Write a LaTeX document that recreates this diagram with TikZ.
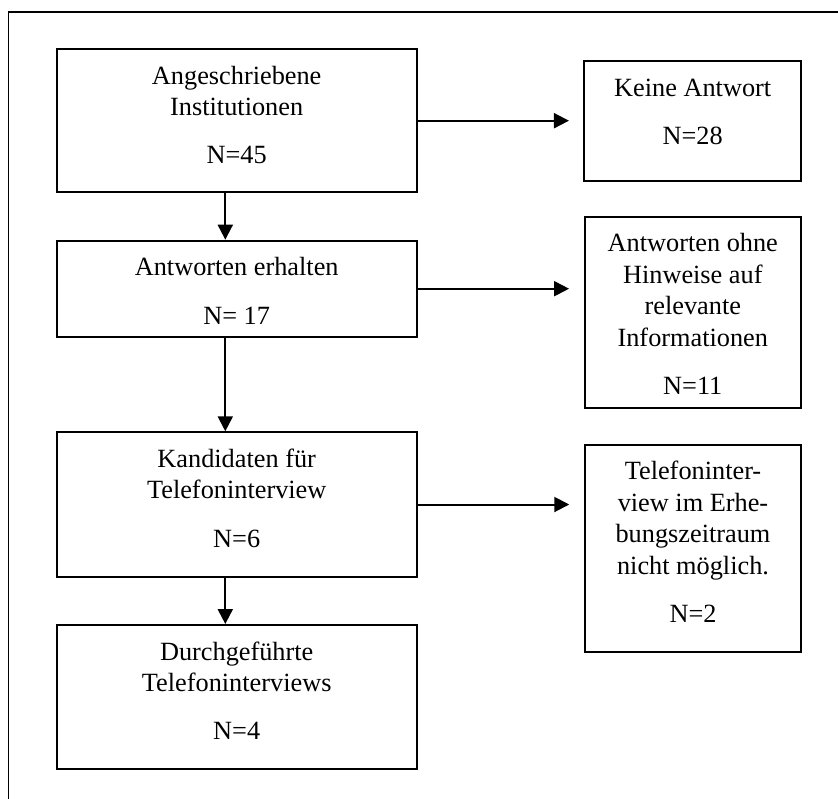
\documentclass[tikz,border=0pt]{standalone}
\usepackage{fontspec}
\setmainfont{Liberation Serif}
\usetikzlibrary{arrows.meta}
\begin{document}
\begin{tikzpicture}[x=1pt,y=-1pt,
  box/.style={draw, line width=2pt, inner sep=0pt},
  txt/.style={align=center, inner sep=0pt, anchor=base, font=\fontsize{26.3}{31.5}\selectfont},
  arr/.style={line width=2pt, -{Triangle[length=15pt,width=15pt]}},
  frame/.style={line width=1.4pt}]
\useasboundingbox (0,0) rectangle (838,798);
\draw[frame] (850,12) -- (8.3,12) -- (8.3,810);

% left column
\node[box, minimum width=360pt, minimum height=143.3pt] (b1) at (236.7,120.7) {};
\node[box, minimum width=360pt, minimum height=96pt]    (b3) at (236.7,288.7) {};
\node[box, minimum width=360pt, minimum height=144.4pt] (b5) at (236.7,504.5) {};
\node[box, minimum width=360pt, minimum height=144pt]   (b7) at (236.7,697) {};
% right column
\node[box, minimum width=216.5pt, minimum height=120pt]   (b2) at (692.7,121) {};
\node[box, minimum width=216.5pt, minimum height=191.6pt] (b4) at (692.8,312.5) {};
\node[box, minimum width=216.5pt, minimum height=206.7pt] (b6) at (693,548.3) {};

% texts (base anchor = baseline of the last line)
\node[txt] (t1) at ([yshift=-115.8pt]b1.north) {Angeschriebene\\Institutionen\\[16.8pt]N=45};
\node[txt] (t2) at ([yshift=-84.3pt]b2.north) {Keine Antwort\\[16.8pt]N=28};
\node[txt] (t3) at ([yshift=-84.3pt]b3.north) {Antworten erhalten\\[16.8pt]N= 17};
\node[txt] (t4) at ([yshift=-178.8pt]b4.north) {Antworten ohne\\Hinweise auf\\relevante\\Informationen\\[16.8pt]N=11};
\node[txt] (t5) at ([yshift=-115.8pt]b5.north) {Kandidaten für\\Telefoninterview\\[16.8pt]N=6};
\node[txt] (t6) at ([yshift=-178.8pt]b6.north) {Telefoninter-\\view im Erhe-\\bungszeitraum\\nicht möglich.\\[16.8pt]N=2};
\node[txt] (t7) at ([yshift=-115.8pt]b7.north) {Durchgeführte\\Telefoninterviews\\[16.8pt]N=4};

% horizontal arrows
\draw[arr, shorten >=14.5pt] (b1.east) -- (b1.east -| b2.west);
\draw[arr, shorten >=14.5pt] (b3.east) -- (b3.east -| b4.west);
\draw[arr, shorten >=14.5pt] (b5.east) -- (b5.east -| b6.west);

% vertical arrows
\coordinate (v1) at ([xshift=-11.4pt]b1.south);
\coordinate (v3) at ([xshift=-11.4pt]b3.south);
\coordinate (v5) at ([xshift=-11.4pt]b5.south);
\draw[arr] (v1) -- (v1 |- b3.north);
\draw[arr] (v3) -- (v3 |- b5.north);
\draw[arr] (v5) -- (v5 |- b7.north);
\end{tikzpicture}
\end{document}
